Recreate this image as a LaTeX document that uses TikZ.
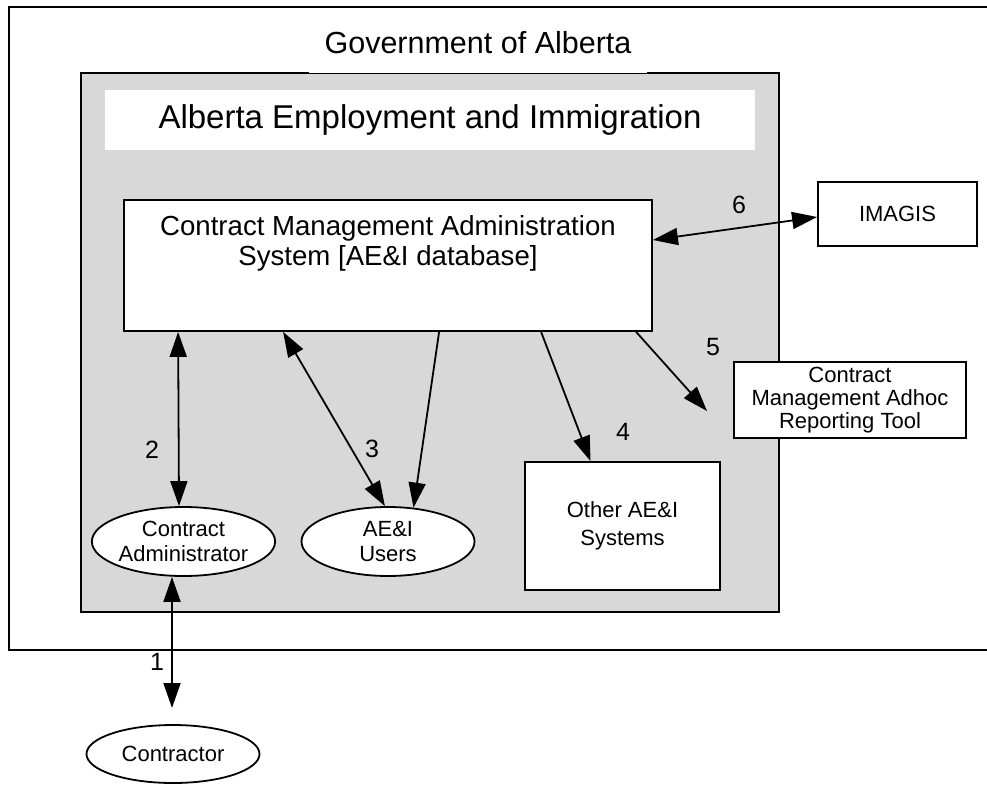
\documentclass[tikz,border=0pt]{standalone}
\usepackage{fontspec}
\setmainfont{Liberation Sans}
\usetikzlibrary{shapes.geometric,arrows.meta}
\definecolor{kastengrau}{RGB}{216,216,216}

\begin{document}
\begin{tikzpicture}[x=1pt,y=-1pt,
	kasten/.style={draw,fill=white,line width=1.8pt,align=center,inner sep=0pt,font=\fontsize{22}{25}\selectfont},
	oval/.style={ellipse,draw,fill=white,line width=1.8pt,align=center,inner sep=0pt,minimum width=173pt,font=\fontsize{22}{25}\selectfont},
	pfeil/.style={line width=1.8pt,-{Triangle[length=25pt,width=17pt]}},
	doppelpfeil/.style={line width=1.8pt,{Triangle[length=25pt,width=17pt]}-{Triangle[length=25pt,width=17pt]}},
	zahl/.style={font=\fontsize{25}{30}\selectfont,inner sep=0pt}]
		\useasboundingbox (0,0) rectangle (987,784);
		% Rahmen Government of Alberta (rechts offen)
		\draw[line width=1.8pt] (987,7) -| (9,650) -- (987,650);
		% graue Box AE&I
		\draw[line width=1.8pt,fill=kastengrau] (81,73) rectangle (779,612);
		% Titel oben, weiss hinterlegt
		\node[fill=white,minimum width=338pt,minimum height=60pt,inner sep=0pt,font=\fontsize{30.5}{36}\selectfont] (goa) at (478,43) {Government of Alberta};
		\node[fill=white,minimum width=650pt,minimum height=60pt,inner sep=0pt,font=\fontsize{33}{40}\selectfont] (aei) at (430,120) {Alberta Employment and Immigration};
		% Hauptsystem, Text oben im Kasten
		\node[kasten,minimum width=528pt,minimum height=131pt,
			label={[anchor=north,yshift=-16pt,align=center,inner sep=0pt,font=\fontsize{27.6}{30.5}\selectfont]north:{Contract Management Administration\\System [AE\&I database]}}] (cmas) at (388,265.5) {};
		% weitere Systeme
		\node[kasten,minimum width=159pt,minimum height=64pt] (imagis) at (897.5,214) {IMAGIS};
		\node[kasten,minimum width=232pt,minimum height=76pt,font=\fontsize{22}{23}\selectfont] (adhoc) at (850,400) {Contract\\Management Adhoc\\Reporting Tool};
		\node[kasten,minimum width=195pt,minimum height=128pt,font=\fontsize{22}{28}\selectfont] (other) at (622.5,526) {Other AE\&I\\Systems};
		% Personen
		\node[oval,minimum height=69pt] (admin) at (183.5,541.5) {Contract\\Administrator};
		\node[oval,minimum height=69pt] (users) at (388,541.5) {AE\&I\\Users};
		\node[oval,minimum height=58pt] (contractor) at (173,754) {Contractor};
		% freie Pfeilenden
		\coordinate (ende1) at (172,708);
		\coordinate (ende5) at (707,411);
		% Pfeile
		\draw[doppelpfeil] ([xshift=-11.5pt]admin.south) -- (ende1);
		\draw[doppelpfeil] ([xshift=55pt]cmas.south west) -- ([xshift=-4.5pt]admin.north);
		\draw[doppelpfeil] ([xshift=160pt]cmas.south west) -- (users.95);
		\draw[pfeil] ([xshift=316pt]cmas.south west) -- (users.53);
		\draw[pfeil] ([xshift=418pt]cmas.south west) -- ([xshift=-32pt]other.north);
		\draw[pfeil] ([xshift=513pt]cmas.south west) -- (ende5);
		\draw[doppelpfeil] ([yshift=25.5pt]cmas.east) -- ([yshift=-3pt]imagis.west);
		% Nummern an den Pfeilen
		\foreach \x/\y/\n in {157/662/1,152/450/2,372/449/3,623/432/4,713/347/5,739/205/6}
		\node[zahl] (nr\n) at (\x,\y) {\n};
	\end{tikzpicture}
\end{document}
